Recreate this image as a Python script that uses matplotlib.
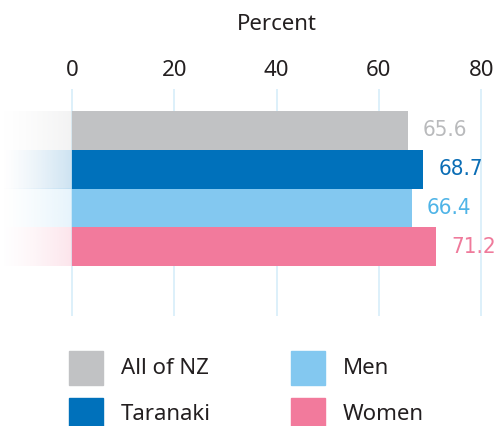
import matplotlib.pyplot as plt
import matplotlib.transforms as mtransforms
from matplotlib.patches import Rectangle
import numpy as np

plt.rcParams['font.family'] = ['Noto Sans', 'DejaVu Sans']

# data
groups = ['All of NZ', 'Taranaki', 'Men', 'Women']
values = [65.6, 68.7, 66.4, 71.2]
bar_colors = ['#C1C2C4', '#0071BB', '#83C8F0', '#F27A9C']
label_colors = ['#B9BABC', '#0A6DB5', '#4FB4E7', '#EF7A9B']
xticks = [0, 20, 40, 60, 80]

fig = plt.figure(figsize=(4.95, 4.26), dpi=100)
W, H = 495, 426
# axes spans full width; grid area from y=89 to y=316 px
ax = fig.add_axes([0, 1 - 316 / H, 1, (316 - 89) / H])
xmin, xmax = -72 / 5.115, (W - 72) / 5.115

ypos = np.arange(len(groups))
ax.barh(ypos, values, height=1.0, color=bar_colors, zorder=3)

# faded lead-in to the left of zero
ramp = np.linspace(0, 1, 100) ** 1.3 * 0.2
for y, c in zip(ypos, bar_colors):
    rgb = np.array(plt.matplotlib.colors.to_rgb(c))
    img = np.ones((1, 100, 4))
    img[0, :, :3] = rgb
    img[0, :, 3] = ramp
    ax.imshow(img, extent=(xmin, 0, y + 0.5, y - 0.5), aspect='auto',
              interpolation='bilinear', zorder=2)

for x in xticks:
    ax.axvline(x, color='#DAEFFA', lw=1.3, zorder=1)

for y, v, c in zip(ypos, values, label_colors):
    ax.annotate(f'{v:.1f}', (v, y), xytext=(11, 0), textcoords='offset points',
                ha='left', va='center', color=c, fontsize=16,
                family='DejaVu Sans', stretch='condensed')

ax.set_ylim(4.79, -1.07)
ax.set_xlim(xmin, xmax)
ax.axis('off')

# tick labels and axis title on top
trans = mtransforms.blended_transform_factory(ax.transData, fig.transFigure)
for x in xticks:
    ax.text(x, 1 - 70 / H, str(x), transform=trans, ha='center', va='center',
            fontsize=16, color='#231F20')
ax.text(40, 1 - 25 / H, 'Percent', transform=trans, ha='center', va='center',
        fontsize=16, color='#231F20')

# legend (two columns)
legend_pos = [(69, 351), (69, 398), (291, 351), (291, 398)]
for (px, py), name, c in zip(legend_pos, groups, bar_colors):
    fig.patches.append(Rectangle((px / W, 1 - (py + 34) / H), 34 / W, 34 / H,
                                 transform=fig.transFigure, color=c))
    fig.text((px + 52) / W, 1 - (py + 17) / H, name, ha='left', va='center',
             fontsize=16, color='#231F20')

fig.savefig('out.png', dpi=100)
